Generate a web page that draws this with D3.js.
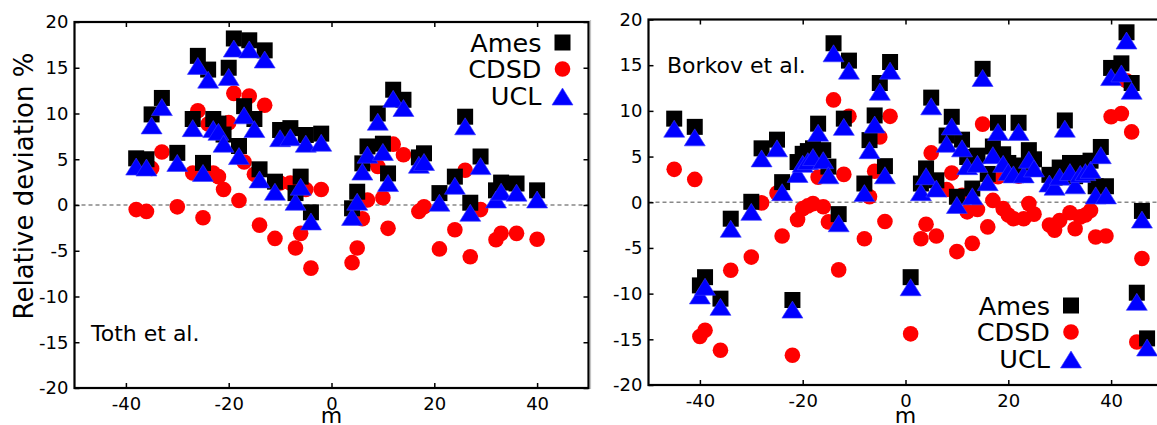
<!DOCTYPE html>
<html>
<head>
<meta charset="utf-8">
<script src="https://cdn.jsdelivr.net/npm/d3@7"></script>
<style>
  body { margin: 0; background: #fff; }
  text { font-family: "DejaVu Sans", sans-serif; fill: #000; }
</style>
</head>
<body>
<script>
// Toth et al. panel
var mToth = [-38,-36,-35,-33,-30,-27,-26,-25,-24,-23,-22,-21,-20,-19,-18,-17,-16,-15,-14,-13,
  -11,-10,-8,-7,-6,-5,-4,-2,4,5,6,7,9,10,11,12,14,17,18,21,24,26,27,29,32,33,36,40];
var amesToth = [5.1,5.0,9.9,11.7,5.7,9.4,16.3,4.6,14.8,9.4,8.9,7.7,15.0,18.2,6.45,10.8,18.0,9.4,3.9,16.9,
  2.55,8.2,8.4,1.3,3.1,7.65,-0.8,7.8,-0.36,1.45,4.55,6.4,10.0,6.7,3.45,12.6,11.5,5.2,5.65,1.3,3.1,9.65,0.25,
  5.3,1.6,2.45,2.35,1.6];
var cdsdToth = [-0.5,-0.7,4.0,5.8,-0.2,3.5,10.3,-1.4,8.85,3.5,3.1,1.7,9.0,12.2,0.5,4.7,11.9,3.35,-2.2,10.9,
  -3.65,2.4,2.4,-4.7,-3.1,1.7,-6.9,1.7,-6.3,-4.7,-1.5,0.55,4.2,0.8,-2.55,6.65,5.5,-0.7,-0.2,-4.8,-2.7,3.8,-5.65,
  -0.5,-3.8,-3.1,-3.1,-3.75];
var uclToth = [4.2,4.1,8.7,10.7,4.6,8.4,15.2,3.5,13.7,8.3,8.0,6.7,14.0,17.1,5.35,9.8,17.0,8.3,2.8,15.9,
  1.45,7.3,7.4,0.35,2.0,6.7,-1.8,6.8,-1.3,0.36,3.65,5.5,9.1,5.8,2.4,11.6,10.6,4.4,4.7,0.25,2.1,8.6,-0.85,
  4.25,0.6,1.45,1.35,0.6];

// Borkov et al. panel
var mBorkov = [-45,-41,-40,-39,-36,-34,-30,-28,-25,-24,-22,-21,-20,-19,-18,-17,-16,-15,-14,-13,
  -12,-11,-8,-7,-6,-5,-4,-3,1,3,4,5,6,8,9,10,11,12,13,14,15,16,17,18,19,20,21,22,23,24,
  25,28,29,30,31,32,33,34,35,36,37,38,39,40,42,43,44,45,46,47];
var amesBorkov = [9.15,8.25,-9.1,-8.2,-10.55,-1.8,0.05,5.9,6.85,2.2,-10.7,4.4,5.3,5.6,5.9,8.6,5.7,3.9,17.4,-1.3,
  9.15,15.5,2.05,6.8,9.5,13.05,3.95,15.35,-8.2,2.05,3.7,11.45,2.4,7.3,9.35,0.6,6.85,4.95,1.5,5.1,
  14.6,3.1,6.1,8.7,5.25,4.3,4.0,8.7,4.0,5.7,4.7,3.0,2.7,3.8,8.95,4.3,2.85,4.1,4.3,4.55,
  1.75,6.05,1.75,14.7,15.2,18.6,13.05,-9.9,-0.95,-14.9];
var cdsdBorkov = [3.6,2.5,-14.7,-14.0,-16.2,-7.45,-6.0,-0.07,1.0,-3.7,-16.75,-1.9,-0.7,-0.4,-0.15,2.75,-0.5,-2.15,11.2,-7.4,
  3.05,9.4,-4.0,0.6,3.4,7.15,-2.1,9.4,-14.4,-4.0,-2.4,5.4,-3.7,1.4,3.2,-5.4,0.75,-1.05,-4.5,-0.8,
  8.55,-2.7,0.2,2.8,-0.7,-1.4,-1.8,2.85,-1.8,-0.15,-1.3,-2.5,-3.05,-2.0,3.3,-1.15,-2.9,-1.6,-1.4,-0.9,
  -3.8,1.1,-3.7,9.35,9.7,13.3,7.7,-15.3,-6.15,null];
var uclBorkov = [8.05,7.1,-10.2,-9.25,-11.45,-2.9,-1.05,4.8,5.9,1.1,-11.75,3.1,4.2,4.5,4.95,7.6,4.6,2.95,16.3,-2.3,
  8.25,14.4,1.0,5.7,8.5,12.1,2.95,14.4,-9.3,1.1,2.85,10.5,1.5,6.4,8.3,-0.3,5.9,3.95,0.65,4.2,
  13.6,2.2,5.15,7.7,4.2,3.3,3.05,7.7,3.05,4.65,3.7,2.05,1.7,2.8,8.05,3.3,1.85,3.1,3.3,3.55,
  0.75,5.15,0.75,13.7,14.1,17.7,12.2,-10.9,-1.9,-15.9];

var seriesNames = ["Ames", "CDSD", "UCL"];
var xTicks = [-40, -20, 0, 20, 40];
var yTicks = [-20, -15, -10, -5, 0, 5, 10, 15, 20];

var svg = d3.select("body").append("svg")
    .attr("width", 1157)
    .attr("height", 425);

// marker shapes
var squarePath = "M-8,-8H8V8H-8Z";
var triPath = "M0,-8.5L10.5,8.5L-10.5,8.5Z";

function drawMarker(g, kind, x, y) {
  if (kind == "CDSD") {
    g.append("circle").attr("cx", x).attr("cy", y).attr("r", 7.8).attr("fill", "#ff0000");
  } else if (kind == "Ames") {
    g.append("path").attr("d", squarePath).attr("transform", "translate(" + x + "," + y + ")")
      .attr("fill", "#000");
  } else {
    g.append("path").attr("d", triPath).attr("transform", "translate(" + x + "," + y + ")")
      .attr("fill", "#0000ff").attr("stroke", "#3a3aff").attr("stroke-width", 0.6);
  }
}

function panel(opts) {
  var x = d3.scaleLinear().domain([-50, 50]).range(opts.xr);
  var y = d3.scaleLinear().domain([-20, 20]).range(opts.yr);
  var g = svg.append("g");

  // zero line
  g.append("line")
    .attr("x1", x(-50)).attr("x2", x(50))
    .attr("y1", y(0)).attr("y2", y(0))
    .attr("stroke", "#888").attr("stroke-width", 1.3)
    .attr("stroke-dasharray", "4,3");

  // points: circles, then squares, then triangles
  var data = {
    "CDSD": opts.c, "Ames": opts.a, "UCL": opts.u
  };
  ["CDSD", "Ames", "UCL"].forEach(function(k) {
    var pg = g.append("g");
    opts.m.forEach(function(m, i) {
      var v = data[k][i];
      if (v === null || v === undefined) return;
      drawMarker(pg, k, x(m), y(v));
    });
  });

  // axes, ticks pointing inward
  var fmt = function(d) { return String(d); };
  var bottom = g.append("g").attr("transform", "translate(0," + opts.yr[0] + ")")
    .call(d3.axisBottom(x).tickValues(xTicks).tickSize(-5).tickSizeOuter(0).tickPadding(9).tickFormat(fmt));
  var left = g.append("g").attr("transform", "translate(" + opts.xr[0] + ",0)")
    .call(d3.axisLeft(y).tickValues(yTicks).tickSize(-5).tickSizeOuter(0).tickPadding(6).tickFormat(fmt));
  var top = g.append("g").attr("transform", "translate(0," + opts.yr[1] + ")")
    .call(d3.axisTop(x).tickValues(xTicks).tickSize(-5).tickSizeOuter(0).tickFormat(""));
  var right = g.append("g").attr("transform", "translate(" + opts.xr[1] + ",0)")
    .call(d3.axisRight(y).tickValues(yTicks).tickSize(-5).tickSizeOuter(0).tickFormat(""));

  [bottom, left, top, right].forEach(function(a) {
    a.select(".domain").remove();
    a.selectAll(".tick line").attr("stroke", "#000").attr("stroke-width", 1.5);
    a.selectAll(".tick text").attr("font-size", 18).attr("font-family", "DejaVu Sans").attr("fill", "#000");
  });

  // frame
  g.append("rect")
    .attr("x", opts.xr[0]).attr("y", opts.yr[1])
    .attr("width", opts.xr[1] - opts.xr[0]).attr("height", opts.yr[0] - opts.yr[1])
    .attr("fill", "none").attr("stroke", "#000").attr("stroke-width", 2.2);

  // x label
  g.append("text")
    .attr("x", x(0)).attr("y", 423)
    .attr("text-anchor", "middle").attr("font-size", 22)
    .text("m");

  // panel title
  g.append("text")
    .attr("x", opts.title[1]).attr("y", opts.title[2])
    .attr("font-size", 22)
    .text(opts.title[0]);

  // legend
  seriesNames.forEach(function(s, i) {
    var ly = opts.leg[1] + i * 26.5;
    g.append("text")
      .attr("x", opts.leg[0] - 21).attr("y", ly)
      .attr("dy", "0.36em")
      .attr("text-anchor", "end").attr("font-size", 25.5)
      .text(s);
    drawMarker(g, s, opts.leg[0], ly + (s == "UCL" ? 1 : 0));
  });
}

panel({
  xr: [74.5, 588.5], yr: [388, 22],
  m: mToth, a: amesToth, c: cdsdToth, u: uclToth,
  title: ["Toth et al.", 91, 341],
  leg: [562.5, 42.5]
});

panel({
  xr: [648.5, 1162.5], yr: [385, 19.5],
  m: mBorkov, a: amesBorkov, c: cdsdBorkov, u: uclBorkov,
  title: ["Borkov et al.", 667, 73],
  leg: [1071, 305.5]
});

// y label
svg.append("text")
  .attr("transform", "translate(33,186) rotate(-90)")
  .attr("text-anchor", "middle").attr("font-size", 26)
  .text("Relative deviation %");

// thin grey divider at the panel join
svg.append("line")
  .attr("x1", 590.5).attr("x2", 590.5).attr("y1", 20).attr("y2", 389)
  .attr("stroke", "#c4c4c4").attr("stroke-width", 1.2);
</script>
</body>
</html>
